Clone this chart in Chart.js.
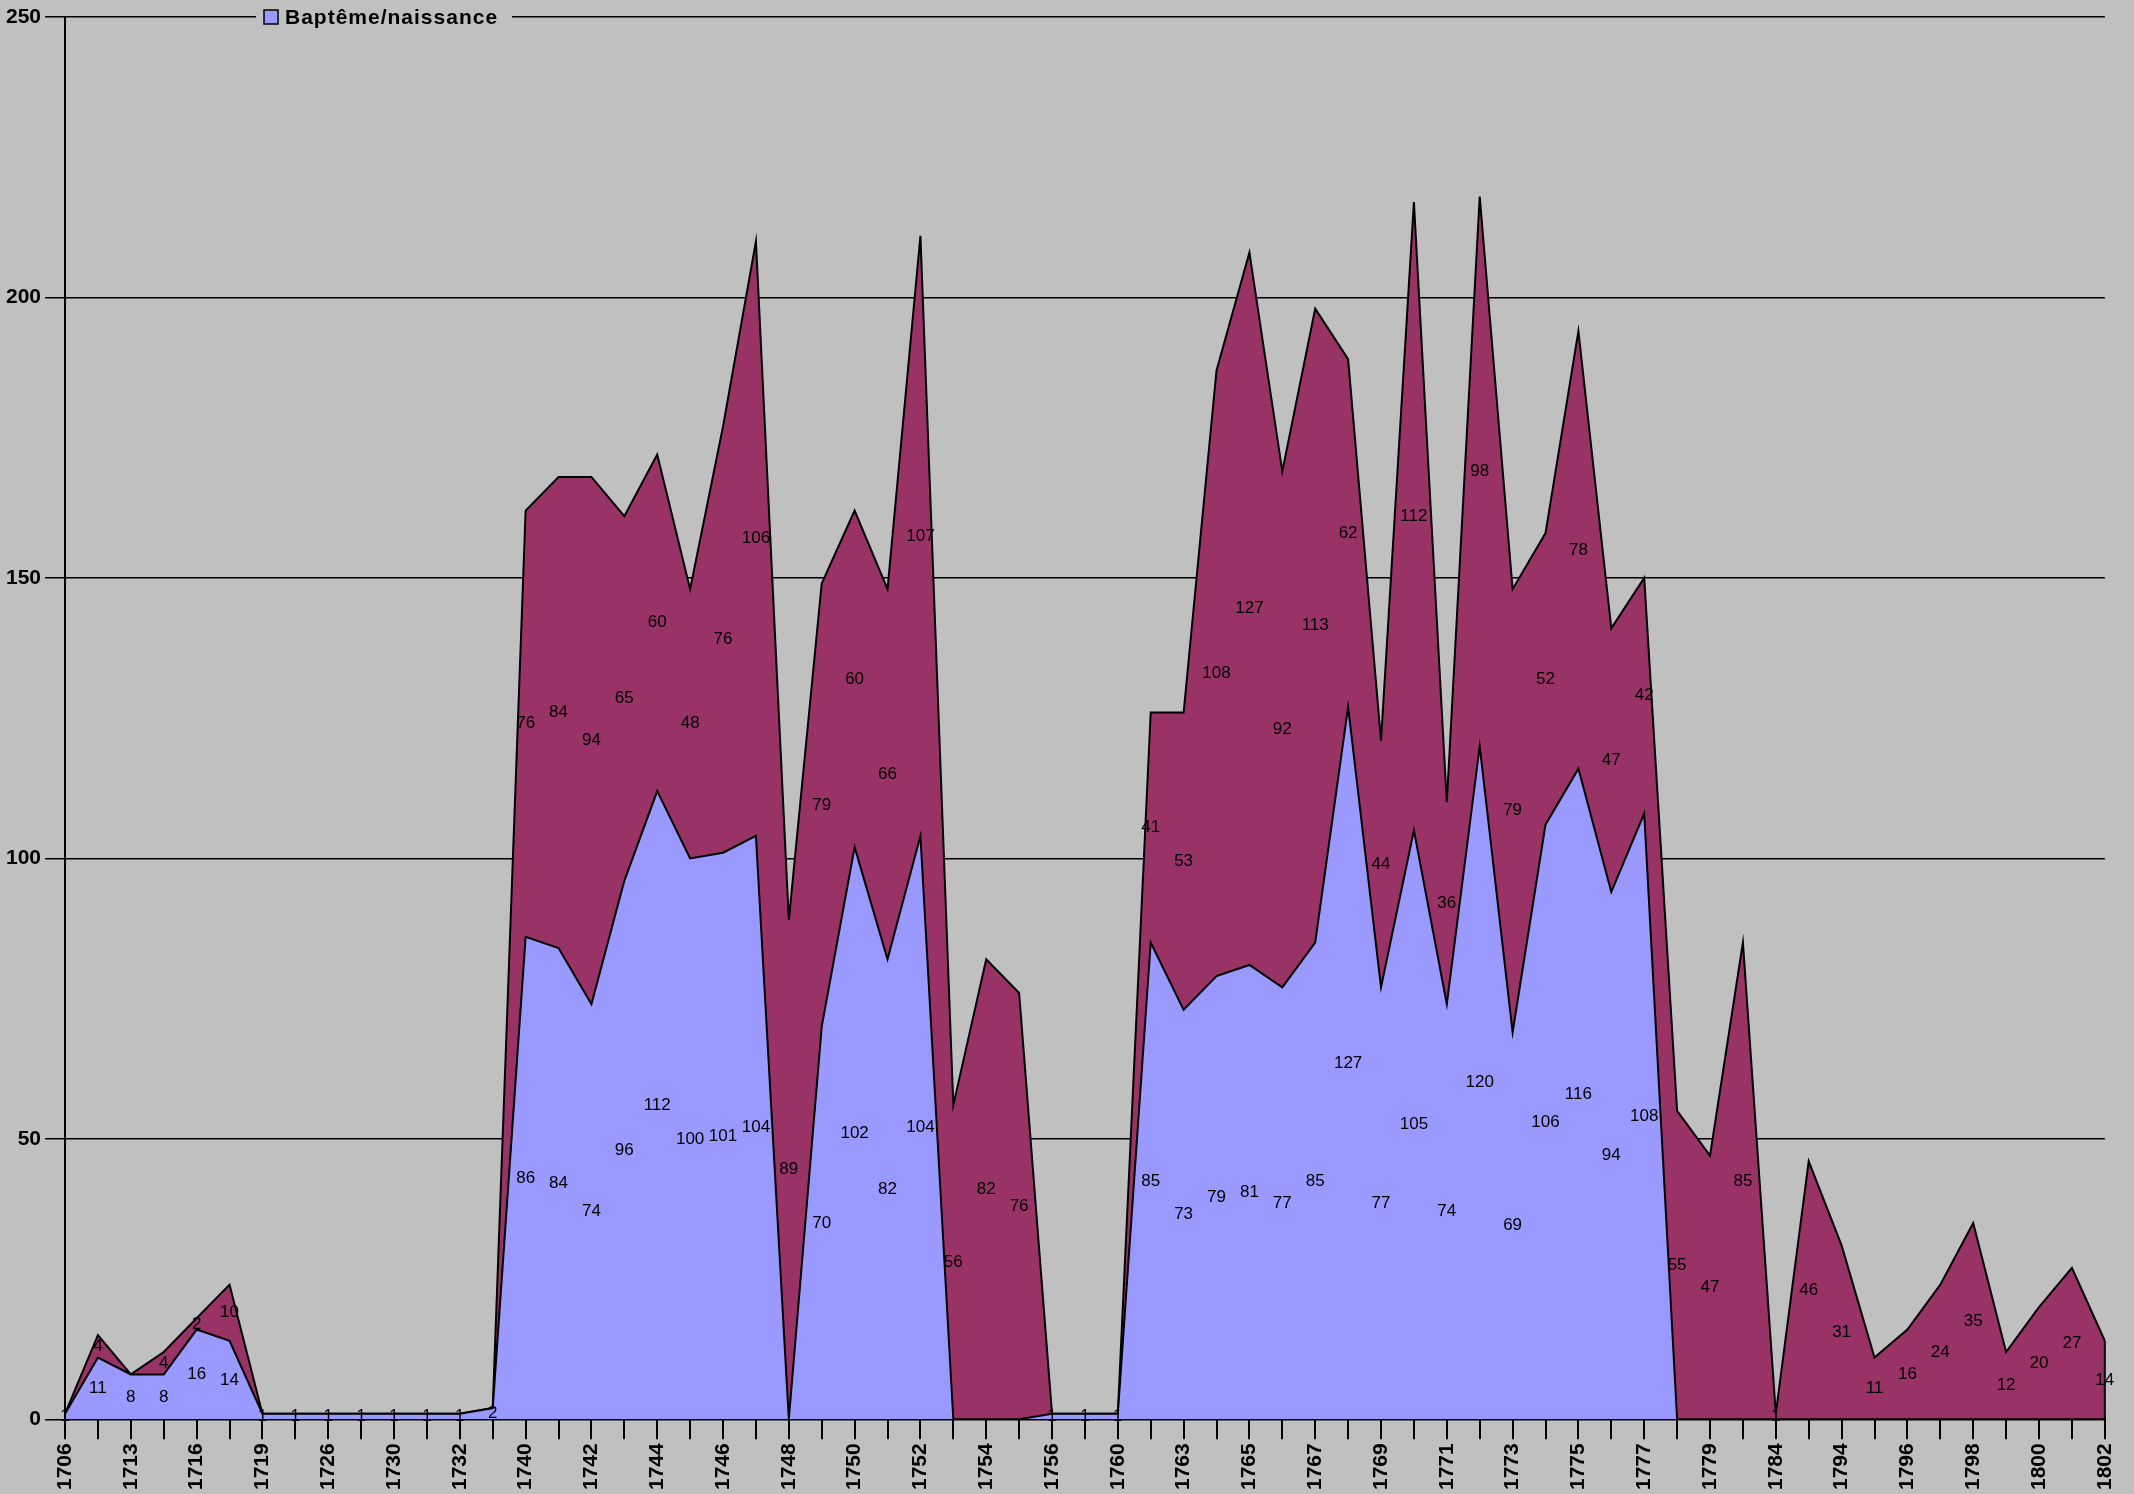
<!DOCTYPE html>
<html>
<head>
<meta charset="utf-8">
<script src="https://cdn.jsdelivr.net/npm/chart.js@4"></script>
<style>
html,body{margin:0;padding:0;background:#C0C0C0;}
#wrap{width:2134px;height:1494px;position:relative;background:#C0C0C0;}
</style>
</head>
<body>
<div id="wrap"><canvas id="c"></canvas></div>
<script>
const years = ['1706','1712','1713','1715','1716','1717','1719','1720','1726','1728','1730','1731','1732','1733',
'1740','1741','1742','1743','1744','1745','1746','1747','1748','1749','1750','1751','1752','1753','1754','1755','1756',
'1758','1760','1762','1763','1764','1765','1766','1767','1768','1769','1770','1771','1772','1773','1774','1775','1776',
'1777','1778','1779','1781','1784','1793','1794','1795','1796','1797','1798','1799','1800','1801','1802'];

const bapteme = [1,11,8,8,16,14,1,1,1,1,1,1,1,2,
86,84,74,96,112,100,101,104,0,70,102,82,104,0,0,0,1,
1,1,85,73,79,81,77,85,127,77,105,74,120,69,106,116,94,
108,0,0,0,0,0,0,0,0,0,0,0,0,0,0];

const serie2 = [0,4,0,4,2,10,0,0,0,0,0,0,0,0,
76,84,94,65,60,48,76,106,89,79,60,66,107,56,82,76,0,
0,0,41,53,108,127,92,113,62,44,112,36,98,79,52,78,47,
42,55,47,85,1,46,31,11,16,24,35,12,20,27,14];

const yTicks = [0,50,100,150,200,250];
const legendLabel = 'Baptême/naissance';

const FONT = '"Liberation Sans", Arial, sans-serif';

const valueLabels = {
  id: 'valueLabels',
  afterDatasetsDraw(chart) {
    const ctx = chart.ctx;
    const xs = chart.scales.x, ys = chart.scales.y;
    ctx.save();
    ctx.font = '17px ' + FONT;
    ctx.fillStyle = '#000';
    ctx.textAlign = 'center';
    ctx.textBaseline = 'middle';
    const n = chart.data.labels.length;
    for (let j = 0; j < n; j++) {
      let base = 0;
      chart.data.datasets.forEach((ds) => {
        const v = ds.data[j];
        if (v > 0) {
          const x = xs.getPixelForValue(j);
          const y = ys.getPixelForValue(base + v / 2);
          ctx.fillText(String(v), x, y);
        }
        base += v;
      });
    }
    const last = n - 1;
    let tot = 0;
    chart.data.datasets.forEach(ds => tot += ds.data[last]);
    ctx.strokeStyle = '#000';
    ctx.lineWidth = 2;
    ctx.beginPath();
    ctx.moveTo(xs.getPixelForValue(last), ys.getPixelForValue(0));
    ctx.lineTo(xs.getPixelForValue(last), ys.getPixelForValue(tot));
    ctx.stroke();
    ctx.restore();
  }
};

const customLegend = {
  id: 'customLegend',
  afterDraw(chart) {
    const ctx = chart.ctx;
    const top = chart.chartArea.top;
    ctx.save();
    ctx.fillStyle = '#C0C0C0';
    ctx.fillRect(256, top - 10, 256, 20);
    ctx.fillStyle = '#9999FF';
    ctx.fillRect(264, top - 7, 14, 14);
    ctx.strokeStyle = '#000';
    ctx.lineWidth = 1.5;
    ctx.strokeRect(264, top - 7, 14, 14);
    ctx.fillStyle = '#000';
    ctx.font = 'bold 21px ' + FONT;
    try { ctx.letterSpacing = '1px'; } catch (e) {}
    ctx.textAlign = 'left';
    ctx.textBaseline = 'alphabetic';
    ctx.fillText(chart.data.datasets[0].label, 285, top + 7);
    ctx.restore();
  }
};

new Chart(document.getElementById('c'), {
  type: 'line',
  data: {
    labels: years,
    datasets: [
      {
        label: legendLabel,
        data: bapteme,
        backgroundColor: '#9999FF',
        borderColor: '#000',
        borderWidth: 2,
        borderJoinStyle: 'miter',
        fill: 'origin',
        pointRadius: 0,
        tension: 0
      },
      {
        label: 'Série 2',
        data: serie2,
        backgroundColor: '#993366',
        borderColor: '#000',
        borderWidth: 2,
        borderJoinStyle: 'miter',
        fill: '-1',
        pointRadius: 0,
        tension: 0
      }
    ]
  },
  options: {
    responsive: true,
    maintainAspectRatio: false,
    animation: false,
    layout: { padding: { left: 2, right: 27, top: 17, bottom: 0 } },
    plugins: {
      legend: { display: false },
      tooltip: { enabled: false }
    },
    scales: {
      x: {
        type: 'category',
        offset: false,
        grid: { drawOnChartArea: false, drawTicks: true, tickLength: 20, color: '#000', lineWidth: 2 },
        border: { display: true, color: '#000', width: 2 },
        ticks: {
          autoSkip: false,
          maxRotation: 90,
          minRotation: 90,
          padding: 4,
          color: '#000',
          font: { family: FONT, size: 21, weight: 'bold' },
          callback: function (val, idx) { return idx % 2 === 0 ? this.getLabelForValue(val) : ''; }
        }
      },
      y: {
        stacked: true,
        min: yTicks[0],
        max: yTicks[yTicks.length - 1],
        afterBuildTicks: (scale) => { scale.ticks = yTicks.map(v => ({ value: v })); },
        grid: { color: '#000', lineWidth: 1.5, tickLength: 20 },
        border: { display: true, color: '#000', width: 2 },
        ticks: {
          padding: 4,
          color: '#000',
          font: { family: FONT, size: 21, weight: 'bold' }
        }
      }
    }
  },
  plugins: [valueLabels, customLegend]
});
</script>
</body>
</html>
